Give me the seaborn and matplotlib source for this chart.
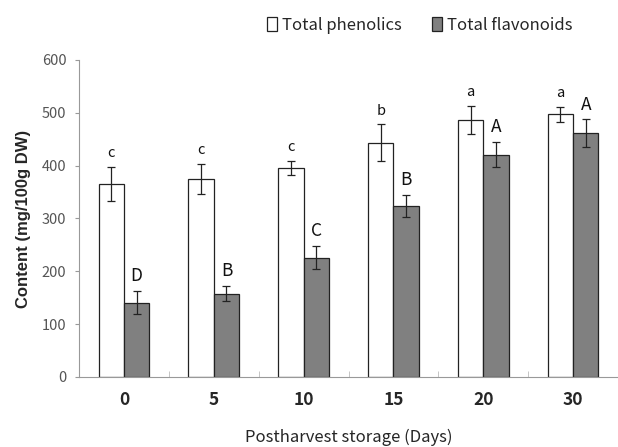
import matplotlib
matplotlib.use("Agg")
import matplotlib.pyplot as plt
import seaborn as sns
import pandas as pd
from matplotlib.patches import Patch

days = ["0", "5", "10", "15", "20", "30"]
phenolics = [366, 375, 396, 443, 486, 497]
phenolics_err = [32, 28, 13, 35, 27, 14]
flavonoids = [141, 158, 226, 324, 421, 462]
flavonoids_err = [22, 15, 22, 21, 24, 26]
phen_letters = ["c", "c", "c", "b", "a", "a"]
flav_letters = ["D", "B", "C", "B", "A", "A"]
series = ["Total phenolics", "Total flavonoids"]

df = pd.DataFrame({
    "Day": days * 2,
    "Content": phenolics + flavonoids,
    "Series": [series[0]] * len(days) + [series[1]] * len(days),
})

sns.set_theme(style="white")
plt.rcParams["font.family"] = ["Noto Sans CJK KR", "DejaVu Sans"]

fig = plt.figure(figsize=(6.18, 4.47), dpi=100)
ax = fig.add_axes([79 / 618, 70 / 447, 1 - 79 / 618, 317 / 447])

sns.barplot(data=df, x="Day", y="Content", hue="Series", order=days,
            hue_order=series, palette=["white", "#808080"], width=0.565,
            edgecolor="#222222", linewidth=0.9, errorbar=None, legend=False,
            ax=ax)

errs = [phenolics_err, flavonoids_err]
letters = [phen_letters, flav_letters]
sizes = [10.5, 12.5]
offsets = [5, 4]
bar_containers = list(ax.containers)
for ci, cont in enumerate(bar_containers):
    for bi, bar in enumerate(cont.patches):
        xc = bar.get_x() + bar.get_width() / 2
        h = bar.get_height()
        e = errs[ci][bi]
        ax.errorbar(xc, h, yerr=e, fmt="none", ecolor="#222222",
                    elinewidth=0.9, capsize=3, capthick=0.9)
        ax.annotate(letters[ci][bi], (xc, h + e), xytext=(0, offsets[ci]),
                    textcoords="offset points", ha="center", va="bottom",
                    fontsize=sizes[ci], color="#111111")

ax.set_ylim(0, 600)
ax.set_xlim(-0.5, 5.36)
ax.set_yticks(range(0, 601, 100))
ax.tick_params(axis="y", direction="out", length=3, width=0.8,
               color="#999999", labelsize=10.5, labelcolor="#555555", pad=6,
               left=True)
ax.set_xticks([i + 0.5 for i in range(-1, 6)], minor=True)
ax.tick_params(axis="x", which="minor", direction="in", length=4,
               width=0.6, color="#bbbbbb", bottom=True)
ax.tick_params(axis="x", which="major", length=0, labelsize=12.5, pad=10)
for lbl in ax.get_xticklabels():
    lbl.set_fontweight("bold")

for s in ["top", "right"]:
    ax.spines[s].set_visible(False)
for s in ["left", "bottom"]:
    ax.spines[s].set_color("#999999")
    ax.spines[s].set_linewidth(0.8)

ax.set_xlabel("Postharvest storage (Days)", fontsize=12, labelpad=14)
ax.set_ylabel("Content (mg/100g DW)", fontsize=12, fontweight="bold",
              family=["Liberation Sans", "DejaVu Sans"], labelpad=8)

handles = [Patch(facecolor="white", edgecolor="#222222", linewidth=0.9),
           Patch(facecolor="#808080", edgecolor="#222222", linewidth=0.9)]
fig.legend(handles, series, loc="center", bbox_to_anchor=(420 / 618, 1 - 25 / 447),
           ncol=2, frameon=False, fontsize=12, handlelength=0.6,
           handleheight=0.9, handletextpad=0.3, columnspacing=1.8)

fig.savefig("out.png", dpi=100)
